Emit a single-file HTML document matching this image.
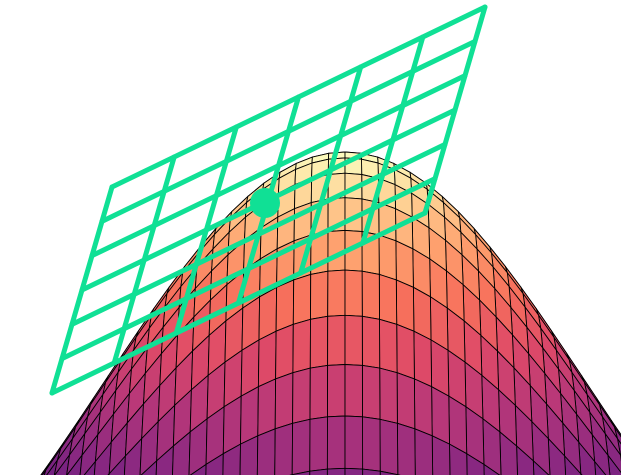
<!DOCTYPE html>
<html><head><meta charset="utf-8"><style>
html,body{margin:0;padding:0;background:#fff;overflow:hidden;width:621px;height:475px}
svg{display:block}
</style></head><body>
<svg id="chart" width="621" height="475" viewBox="0 0 621 475" xmlns="http://www.w3.org/2000/svg">
<g id="surface"></g>
<g id="plane"></g>
</svg>
<script>
// surface parameters (Gaussian bump)
const gridX = [-2.6, 2.6, 80];
const gridY = [-2.6, 2.6, 42];
const bumpSigma = [1.0];
// tangent plane corners (screen) and grid divisions
const planeCorners = [[112,187],[485,7],[52,393]];
const planeDivs = [6, 6];
const tangentPoint = [265, 203];

const S=200, SX=1.15, HZ=2.7, EL=18*Math.PI/180, D=10;
const cosE=Math.cos(EL), sinE=Math.sin(EL);
function zf(x,y){return Math.exp(-(x*x+y*y)/(2*bumpSigma[0]*bumpSigma[0]));}
function rawProj(x,y,z){const depth=y*cosE - z*HZ*sinE;const p=D/(D+depth);return [x*S*SX*p, -S*(z*HZ*cosE + y*sinE)*p, depth];}
const pk=rawProj(0,0,1);
const CX=345-pk[0], CY=152-pk[1];
function proj(x,y,z){const r=rawProj(x,y,z);return [CX+r[0],CY+r[1],r[2]];}
const stops=["#000004","#140e36","#3b0f70","#641a80","#8c2981","#b73779","#de4968","#f7705c","#fe9f6d","#fecf92","#fcfdbf"];
function hex(h){return [parseInt(h.slice(1,3),16),parseInt(h.slice(3,5),16),parseInt(h.slice(5,7),16)];}
function magma(t){t=Math.max(0,Math.min(1,t));const f=t*10,i=Math.min(9,Math.floor(f)),u=f-i;const a=hex(stops[i]),b=hex(stops[i+1]);
return "rgb("+a.map((v,k)=>Math.round(v+(b[k]-v)*u)).join(",")+")";}
const NS="http://www.w3.org/2000/svg";
const sg=document.getElementById('surface');
const quads=[];
const nx=gridX[2], ny=gridY[2];
for(let j=0;j<ny;j++){for(let i=0;i<nx;i++){
 const x0=gridX[0]+(gridX[1]-gridX[0])*i/nx, x1=gridX[0]+(gridX[1]-gridX[0])*(i+1)/nx;
 const y0=gridY[0]+(gridY[1]-gridY[0])*j/ny, y1=gridY[0]+(gridY[1]-gridY[0])*(j+1)/ny;
 const pts=[[x0,y0],[x1,y0],[x1,y1],[x0,y1]].map(q=>proj(q[0],q[1],zf(q[0],q[1])));
 const zc=zf((x0+x1)/2,(y0+y1)/2);
 const dep=pts.reduce((s,p)=>s+p[2],0)/4;
 quads.push({pts,zc,dep});
}}
quads.sort((a,b)=>b.dep-a.dep);
for(const q of quads){
 const el=document.createElementNS(NS,'polygon');
 el.setAttribute('points',q.pts.map(p=>p[0].toFixed(1)+","+p[1].toFixed(1)).join(" "));
 el.setAttribute('fill',magma(Math.pow(q.zc,1.4)));
 el.setAttribute('stroke','#000');
 el.setAttribute('stroke-width','0.9');
 
 
 sg.appendChild(el);
}
// plane
const pg=document.getElementById('plane');
const O=planeCorners[0], A=[planeCorners[1][0]-O[0],planeCorners[1][1]-O[1]], B=[planeCorners[2][0]-O[0],planeCorners[2][1]-O[1]];
function pl(u,v){return [O[0]+A[0]*u+B[0]*v, O[1]+A[1]*u+B[1]*v];}
function line(p,q,name){const l=document.createElementNS(NS,'line');
 l.setAttribute('x1',p[0]);l.setAttribute('y1',p[1]);l.setAttribute('x2',q[0]);l.setAttribute('y2',q[1]);
 l.setAttribute('stroke','#10e095');l.setAttribute('stroke-width','5');l.setAttribute('stroke-linecap','round');
 
 
 pg.appendChild(l);}
for(let i=0;i<=planeDivs[0];i++){line(pl(i/planeDivs[0],0),pl(i/planeDivs[0],1),'plane-grid-line');}
for(let j=0;j<=planeDivs[1];j++){line(pl(0,j/planeDivs[1]),pl(1,j/planeDivs[1]),'plane-grid-line');}
const c=document.createElementNS(NS,'circle');
c.setAttribute('cx',tangentPoint[0]);c.setAttribute('cy',tangentPoint[1]);c.setAttribute('r','15');c.setAttribute('fill','#10e095');


pg.appendChild(c);
</script>
</body></html>
